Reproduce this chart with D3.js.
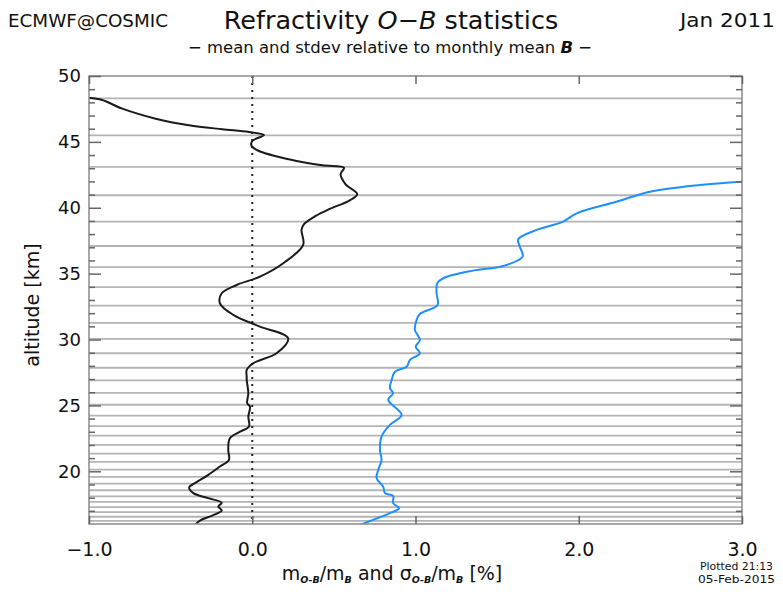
<!DOCTYPE html>
<html>
<head>
<meta charset="utf-8">
<script src="https://cdn.jsdelivr.net/npm/d3@7"></script>
<style>
  body { margin: 0; background: #fff; }
  text { font-family: 'DejaVu Sans', sans-serif; fill: #111; }
  .tick line { stroke: #666; stroke-width: 1.5px; }
  .domain { display: none; }
</style>
</head>
<body>
<div id="chart"></div>
<script>
// model level heights (km) drawn as grey lines
const levelAlt = [48.3, 45.5, 43.1, 40.95, 38.95, 37.1, 35.5, 33.97, 32.57, 31.27,
  30.05, 28.96, 27.86, 26.9, 25.95, 25.05, 24.22, 23.43, 22.7, 22.0, 21.34, 20.72,
  20.12, 19.57, 19.06, 18.56, 18.1, 17.68, 17.28, 16.9, 16.55, 16.24]

// mean O-B relative to mean B [%]
const meanAlt = [48.35, 48.18, 47.52, 46.76, 46.26, 45.96, 45.75, 45.52, 45.07, 44.69,
  44.31, 43.68, 43.22, 43.04, 42.54, 41.78, 41.02, 40.52, 39.89, 39.38, 38.75, 38.32,
  37.18, 35.79, 34.77, 34.14, 33.51, 32.75, 31.87, 30.98, 30.1, 28.96, 28.2, 27.69,
  27.18, 26.93, 25.93, 25.17, 24.91, 24.15, 23.39, 23.01, 22.51, 21.62, 20.87, 20.36,
  19.73, 19.1, 18.79, 18.34, 17.96, 17.62, 17.32, 17.02, 16.62, 16.26, 15.93]
const meanVal = [-1.0, -0.919, -0.796, -0.592, -0.388, -0.184, -0.02, 0.072, 0.0, -0.004,
  0.041, 0.225, 0.429, 0.562, 0.541, 0.572, 0.643, 0.592, 0.47, 0.388, 0.317, 0.302,
  0.312, 0.19, 0.047, -0.096, -0.187, -0.198, -0.116, 0.047, 0.22, 0.149, 0.006, -0.034,
  -0.034, -0.034, -0.024, -0.031, -0.014, -0.024, -0.02, -0.075, -0.137, -0.147, -0.143, -0.198,
  -0.269, -0.351, -0.386, -0.361, -0.269, -0.187, -0.208, -0.187, -0.249, -0.32, -0.351]

// stdev O-B relative to mean B [%]
const stdAlt = [41.98, 41.73, 41.22, 40.46, 39.58, 38.95, 38.32, 37.61, 37.05, 36.29,
  35.58, 35.23, 34.65, 34.27, 33.51, 32.62, 31.94, 31.49, 30.73, 29.97, 29.46, 28.96,
  28.45, 27.94, 27.56, 26.93, 26.3, 25.93, 25.42, 24.28, 23.52, 22.63, 21.62, 20.87,
  20.11, 19.48, 18.84, 18.34, 18.13, 17.58, 17.2, 16.82, 15.93]
const stdVal = [3.0, 2.742, 2.436, 2.231, 1.987, 1.904, 1.742, 1.629, 1.639, 1.656,
  1.537, 1.353, 1.17, 1.133, 1.129, 1.135, 1.027, 1.007, 0.996, 1.027, 1.001, 1.027,
  0.966, 0.946, 0.874, 0.854, 0.843, 0.863, 0.833, 0.915, 0.843, 0.792, 0.782, 0.792,
  0.772, 0.762, 0.802, 0.813, 0.863, 0.863, 0.9, 0.843, 0.659]

const xTicks = [-1, 0, 1, 2, 3]
const yTicks = [20, 25, 30, 35, 40, 45, 50]
const yMinor = d3.range(17, 51).filter(v => v % 5 !== 0)

const width = 783
const height = 592
const x0 = 89, x1 = 742, y0 = 76, y1 = 524

const svg = d3.select('#chart').append('svg')
  .attr('width', width)
  .attr('height', height)

const x = d3.scaleLinear().domain([-1, 3]).range([x0, x1])
const y = d3.scaleLinear().domain([16, 50]).range([y1, y0])

svg.append('defs').append('clipPath').attr('id', 'plotClip')
  .append('rect')
    .attr('x', x0).attr('y', y0)
    .attr('width', x1 - x0).attr('height', y1 - y0)

// grey level lines
svg.append('g').selectAll('line')
  .data(levelAlt)
  .join('line')
    .attr('x1', x0).attr('x2', x1)
    .attr('y1', d => y(d)).attr('y2', d => y(d))
    .attr('stroke', '#b4b4b4')
    .attr('stroke-width', 1.8)

// zero line
svg.append('line')
  .attr('x1', x(0)).attr('x2', x(0))
  .attr('y1', y0).attr('y2', y1)
  .attr('stroke', '#222')
  .attr('stroke-width', 2)
  .attr('stroke-dasharray', '2,5')

const line = d3.line()
  .x(d => x(d[0]))
  .y(d => y(d[1]))
  .curve(d3.curveCatmullRom.alpha(0.5))

const curves = svg.append('g').attr('clip-path', 'url(#plotClip)')
curves.append('path')
  .datum(meanVal.map((v, i) => [v, meanAlt[i]]))
  .attr('d', line)
  .attr('fill', 'none')
  .attr('stroke', '#1a1a1a')
  .attr('stroke-width', 2)
curves.append('path')
  .datum(stdVal.map((v, i) => [v, stdAlt[i]]))
  .attr('d', line)
  .attr('fill', 'none')
  .attr('stroke', '#1e8fff')
  .attr('stroke-width', 2)

// frame
svg.append('rect')
  .attr('x', x0).attr('y', y0)
  .attr('width', x1 - x0).attr('height', y1 - y0)
  .attr('fill', 'none')
  .attr('stroke', '#8a8a8a')
  .attr('stroke-width', 1.5)

// ticks, pointing inwards on all four sides
function ticks(axis, tx, ty) {
  svg.append('g')
    .attr('transform', `translate(${tx},${ty})`)
    .call(axis)
    .selectAll('text').remove()
}
ticks(d3.axisRight(y).tickValues(yMinor).tickSize(6), x0, 0)
ticks(d3.axisRight(y).tickValues(yTicks).tickSize(12), x0, 0)
ticks(d3.axisLeft(y).tickValues(yMinor).tickSize(6), x1, 0)
ticks(d3.axisLeft(y).tickValues(yTicks).tickSize(12), x1, 0)
ticks(d3.axisTop(x).tickValues(xTicks).tickSize(8), 0, y1)
ticks(d3.axisBottom(x).tickValues(xTicks).tickSize(8), 0, y0)

// tick labels
svg.append('g')
  .attr('transform', `translate(${x0},0)`)
  .call(d3.axisLeft(y).tickValues(yTicks).tickSize(0).tickPadding(8))
  .call(g => g.selectAll('text')
    .attr('font-size', 18)
    .attr('font-family', 'DejaVu Sans'))

svg.append('g')
  .attr('transform', `translate(0,${y1})`)
  .call(d3.axisBottom(x).tickValues(xTicks).tickSize(0).tickPadding(19)
    .tickFormat(d => d3.format('.1f')(d).replace('-', '\u2212')))
  .call(g => g.selectAll('text')
    .attr('font-size', 19)
    .attr('font-family', 'DejaVu Sans'))

// axis titles
svg.append('text')
  .attr('transform', `translate(39,305) rotate(-90)`)
  .attr('text-anchor', 'middle')
  .attr('font-size', 19)
  .text('altitude [km]')

const xt = svg.append('text')
  .attr('x', 392).attr('y', 580)
  .attr('text-anchor', 'middle')
  .attr('font-size', 19)
function sub(t) {
  xt.append('tspan').attr('font-size', 9.5).attr('font-weight', 'bold')
    .attr('font-style', 'italic').attr('dy', 3).text(t)
  return xt
}
xt.append('tspan').text('m')
sub('O-B')
xt.append('tspan').attr('dy', -3).text('/m')
sub('B')
xt.append('tspan').attr('dy', -3).text(' and \u03c3')
sub('O-B')
xt.append('tspan').attr('dy', -3).text('/m')
sub('B')
xt.append('tspan').attr('dy', -3).text(' [%]')

// header
svg.append('text')
  .attr('x', 8).attr('y', 27)
  .attr('font-size', 18)
  .attr('textLength', 160)
  .attr('lengthAdjust', 'spacingAndGlyphs')
  .text('ECMWF@COSMIC')

const title = svg.append('text')
  .attr('x', 391).attr('y', 29)
  .attr('text-anchor', 'middle')
  .attr('font-size', 25.5)
title.append('tspan').text('Refractivity ')
title.append('tspan').attr('font-style', 'italic').text('O\u2212B')
title.append('tspan').text(' statistics')

svg.append('text')
  .attr('x', 680).attr('y', 27)
  .attr('font-size', 19)
  .attr('textLength', 95)
  .attr('lengthAdjust', 'spacingAndGlyphs')
  .text('Jan 2011')

const subtitle = svg.append('text')
  .attr('x', 390).attr('y', 53)
  .attr('text-anchor', 'middle')
  .attr('font-size', 16.5)
subtitle.append('tspan').text('\u2212 mean and stdev relative to monthly mean ')
subtitle.append('tspan').attr('font-style', 'italic').attr('font-weight', 'bold').text('B')
subtitle.append('tspan').text(' \u2212')

svg.append('text')
  .attr('x', 700).attr('y', 570)
  .attr('font-size', 10)
  .attr('textLength', 73)
  .attr('lengthAdjust', 'spacingAndGlyphs')
  .text('Plotted 21:13')
svg.append('text')
  .attr('x', 698).attr('y', 583)
  .attr('font-size', 10)
  .attr('textLength', 77)
  .attr('lengthAdjust', 'spacingAndGlyphs')
  .text('05-Feb-2015')
</script>
</body>
</html>
